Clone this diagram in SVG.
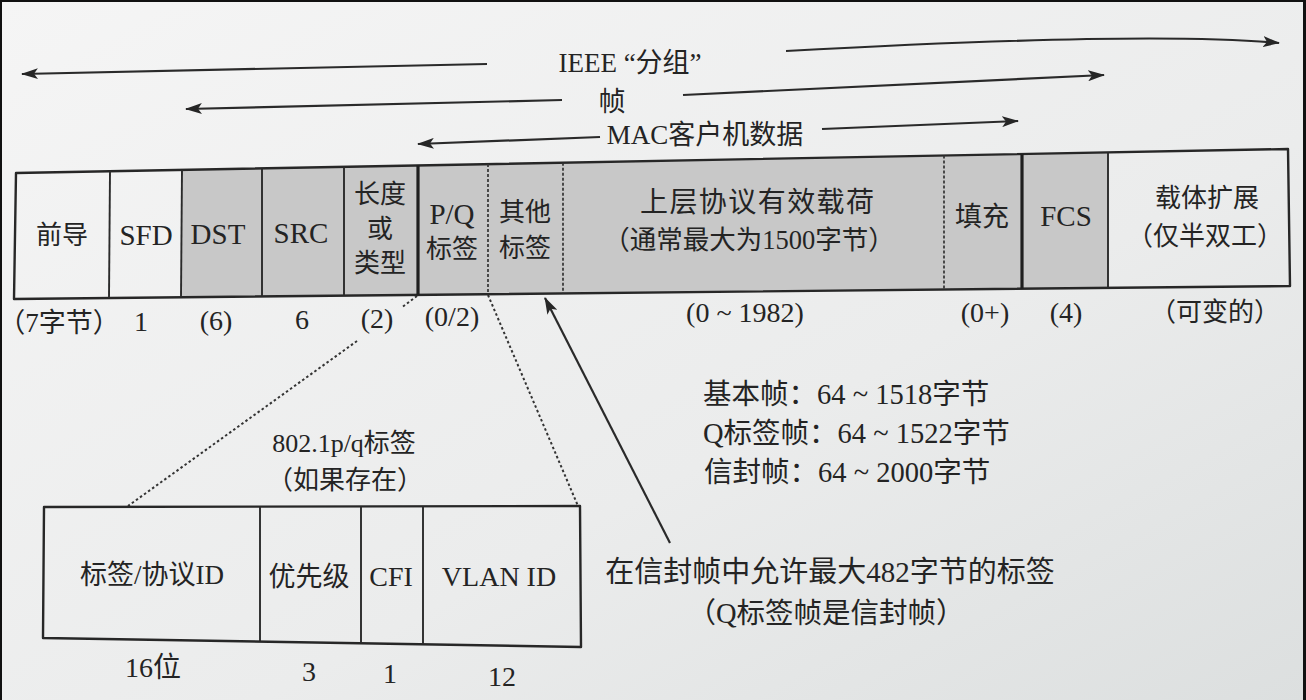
<svg xmlns="http://www.w3.org/2000/svg" width="1306" height="700" viewBox="0 0 1306 700">
  <defs>
    <linearGradient id="paper" x1="0" y1="0" x2="1" y2="1">
      <stop offset="0" stop-color="#f5f5f5"/>
      <stop offset="0.6" stop-color="#ebecec"/>
      <stop offset="1" stop-color="#dcdfdf"/>
    </linearGradient>
    <marker id="head" viewBox="0 0 17 11" refX="16" refY="5.5" markerWidth="17" markerHeight="11" markerUnits="userSpaceOnUse" orient="auto">
      <path d="M0,0 L17,5.5 L0,11 L4,5.5 Z" fill="#262626"/>
    </marker>
  </defs>
  <style>
    text { font-family: "Liberation Serif", "Noto Sans CJK SC", serif; font-size: 26px; fill: #242424; }
    .c { text-anchor: middle; }
    .lat { font-size: 29px; }
    .num { font-size: 28px; }
    .mid { font-size: 27px; }
    .note { font-size: 28.5px; }
    .big { font-size: 29px; }
    .frame { fill: none; stroke: #272727; stroke-width: 2.4; stroke-linejoin: round; }
    .div { stroke: #2b2b2b; stroke-width: 1.9; }
    .thick { stroke: #1f1f1f; stroke-width: 3.2; }
    .dash { stroke: #333; stroke-width: 1.7; stroke-dasharray: 3 2; }
    .dot { stroke: #333; stroke-width: 2; stroke-dasharray: 2.5 2.5; fill: none; }
    .arr { stroke: #2a2a2a; stroke-width: 2.2; fill: none; marker-end: url(#head); }
  </style>

  <!-- page -->
  <rect width="1306" height="700" fill="url(#paper)"/>
  <rect x="0" y="0" width="1306" height="2" fill="#111"/>
  <rect x="0" y="0" width="2" height="700" fill="#111"/>
  <rect x="1303" y="0" width="3" height="700" fill="#111"/>

  <!-- span arrows, zoom lines and pointer -->
  <g id="connectors">
    <path class="arr" d="M487,64 L22,74"/>
    <path class="arr" d="M786,51 Q1150,31 1279,43"/>
    <path class="arr" d="M562,100 L186,109"/>
    <path class="arr" d="M683,95 L1104,75"/>
    <path class="arr" d="M600,137 L418,144"/>
    <path class="arr" d="M822,129 L1018,121"/>
    <!-- zoom lines to the 802.1p/q tag (broken around the "(2)" label) -->
    <path class="dot" d="M417,296 L401,308 M357,341 L128,506"/>
    <path class="dot" d="M488,295 L578,506"/>
    <!-- pointer to the tag fields -->
    <path class="arr" d="M670,543 L545,298"/>
  </g>

  <g id="span-labels">
    <text class="c mid" x="630" y="72">IEEE “分组”</text>
    <text class="c mid" x="612" y="111">帧</text>
    <text class="c mid" x="705" y="144">MAC客户机数据</text>
  </g>

  <!-- frame fields -->
  <g id="frame">
    <polygon points="181,169.8 1108,152.4 1108,287.8 181,297.2" fill="#c8c8c8"/>
    <polygon class="frame" points="16,173 1288,149 1290,286 14,299"/>
    <line class="div" x1="110" y1="171.2" x2="109" y2="297.9"/>
    <line class="div" x1="182" y1="169.8" x2="181" y2="297.2"/>
    <line class="div" x1="262" y1="168.4" x2="262" y2="296.4"/>
    <line class="div" x1="344" y1="166.8" x2="344" y2="295.6"/>
    <line class="thick" x1="418" y1="165.4" x2="418" y2="294.8"/>
    <line class="dash" x1="488" y1="164.1" x2="488" y2="294.1"/>
    <line class="dash" x1="563" y1="162.7" x2="563" y2="293.4"/>
    <line class="dash" x1="944" y1="155.5" x2="944" y2="289.5"/>
    <line class="thick" x1="1022" y1="154" x2="1022" y2="288.7"/>
    <line class="div" x1="1108" y1="152.4" x2="1108" y2="287.8"/>
  </g>

  <g id="preamble"><text class="c" x="62" y="244">前导</text><text class="c mid" x="59" y="332">（7字节）</text></g>
  <g id="sfd"><text class="c lat" x="146" y="245">SFD</text><text class="c num" x="141" y="331">1</text></g>
  <g id="dst"><text class="c lat" x="218" y="244">DST</text><text class="c num" x="216" y="330">(6)</text></g>
  <g id="src"><text class="c lat" x="301" y="243">SRC</text><text class="c num" x="302" y="329">6</text></g>
  <g id="length-type">
    <text class="c" x="380" y="203">长度</text>
    <text class="c" x="380" y="238">或</text>
    <text class="c" x="380" y="272">类型</text>
    <text class="c num" x="377" y="328">(2)</text>
  </g>
  <g id="pq-tag">
    <text class="c lat" x="452" y="224">P/Q</text>
    <text class="c" x="452" y="258">标签</text>
    <text class="c num" x="452" y="326">(0/2)</text>
  </g>
  <g id="other-tags">
    <text class="c" x="525" y="221">其他</text>
    <text class="c" x="525" y="257">标签</text>
  </g>
  <g id="payload">
    <text class="c" x="757" y="212" style="font-size:28px" textLength="234" lengthAdjust="spacing">上层协议有效载荷</text>
    <text class="c" x="749" y="249" style="font-size:26.5px">（通常最大为1500字节）</text>
    <text class="c num" x="745" y="322">(0 ~ 1982)</text>
  </g>
  <g id="pad"><text class="c mid" x="982" y="226">填充</text><text class="c num" x="985" y="322">(0+)</text></g>
  <g id="fcs"><text class="c lat" x="1066" y="226">FCS</text><text class="c num" x="1066" y="322">(4)</text></g>
  <g id="extension">
    <text class="c" x="1207" y="207">载体扩展</text>
    <text class="c" x="1205" y="245">（仅半双工）</text>
    <text class="c" x="1215" y="321">（可变的）</text>
  </g>

  <!-- 802.1p/q tag detail -->
  <g id="tag">
    <text class="c" x="344" y="452">802.1p/q标签</text>
    <text class="c" x="345" y="489">（如果存在）</text>
    <polygon class="frame" points="44,507 580,506 581,647 43,638"/>
    <line class="div" x1="260" y1="507" x2="260" y2="641"/>
    <line class="div" x1="361" y1="507" x2="361" y2="643"/>
    <line class="div" x1="423" y1="507" x2="423" y2="644"/>
  </g>
  <g id="tpid"><text class="c mid" x="152" y="584">标签/协议ID</text><text class="c num" x="153" y="677">16位</text></g>
  <g id="priority"><text class="c mid" x="309" y="586">优先级</text><text class="c num" x="309" y="681">3</text></g>
  <g id="cfi"><text class="c num" x="391" y="586">CFI</text><text class="c num" x="390" y="683">1</text></g>
  <g id="vlan-id"><text class="c num" x="499" y="586">VLAN ID</text><text class="c num" x="502" y="686">12</text></g>

  <!-- frame size notes -->
  <g id="sizes">
    <text class="note" x="703" y="404">基本帧：64 ~ 1518字节</text>
    <text class="note" x="703" y="443">Q标签帧：64 ~ 1522字节</text>
    <text class="note" x="704" y="482">信封帧：64 ~ 2000字节</text>
  </g>
  <g id="envelope-note">
    <text class="c big" x="830" y="582">在信封帧中允许最大482字节的标签</text>
    <text class="c note" x="826" y="623">（Q标签帧是信封帧）</text>
  </g>
</svg>
